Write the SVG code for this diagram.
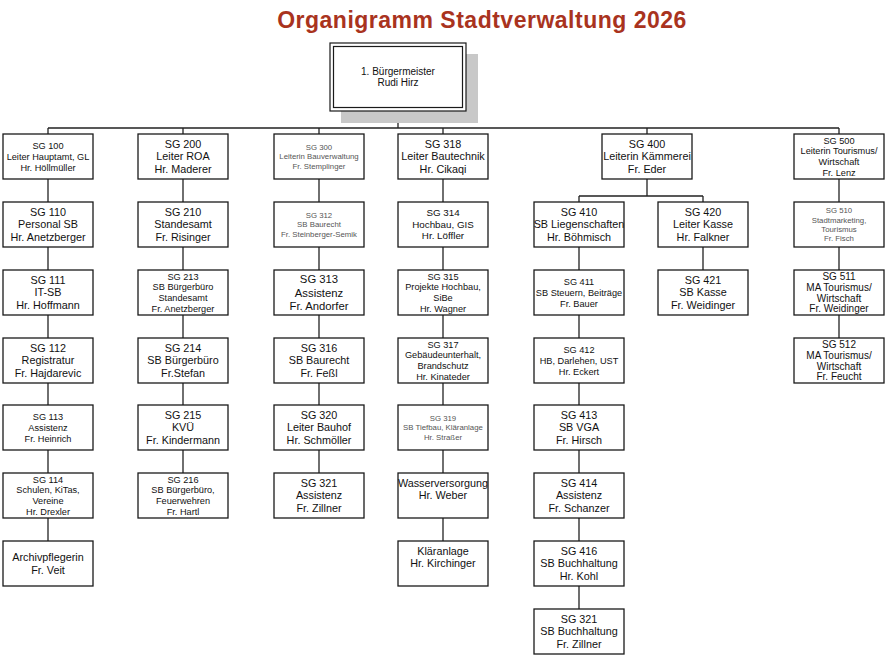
<svg xmlns="http://www.w3.org/2000/svg" width="886" height="656" viewBox="0 0 886 656">
<style>
.box{fill:#fff;stroke:#1a1a1a;stroke-width:1.3}
.t{font-family:"Liberation Sans",Arial,sans-serif;text-anchor:middle;fill:#111}
.b{font-size:10.8px}
.m{font-size:9.2px}
.s{font-size:7.8px;fill:#555}
.con{stroke:#222;stroke-width:1.3;fill:none}
.title{font-family:"Liberation Sans",Arial,sans-serif;font-weight:bold;font-size:23px;letter-spacing:0.5px;fill:#A9331E;text-anchor:middle}
</style>
<rect width="886" height="656" fill="#fff"/>
<text class="title" x="482" y="28">Organigramm Stadtverwaltung 2026</text>

<g id="connectors" class="con">
<path d="M398 111V128M48 128H839"/>
<path d="M48 128V541"/>
<path d="M183 128V473"/>
<path d="M319 128V473"/>
<path d="M443 128V541"/>
<path d="M647 128V196M579 196H703M579 196V609M703 196V270"/>
<path d="M839 128V338"/>
</g>

<g id="buergermeister">
<rect x="341" y="54" width="137" height="69" fill="#c8c8c8"/>
<rect x="330" y="43" width="136" height="68" fill="#fff" stroke="#1a1a1a" stroke-width="1.2"/>
<rect x="333.5" y="46.5" width="129" height="61" fill="none" stroke="#1a1a1a" stroke-width="1.2"/>
<text class="t" font-size="10px" x="398" y="74.6"><tspan x="398">1. Bürgermeister</tspan><tspan x="398" dy="11.7">Rudi Hirz</tspan></text>
</g>

<!-- Column 1 -->
<g id="sg100"><rect class="box" x="3" y="134" width="90" height="45"/><text class="t m" x="48" y="148.6"><tspan x="48">SG 100</tspan><tspan x="48" dy="11.2">Leiter Hauptamt, GL</tspan><tspan x="48" dy="11.2">Hr. Höllmüller</tspan></text></g>
<g id="sg110"><rect class="box" x="3" y="202" width="90" height="45"/><text class="t b" x="48" y="215.7"><tspan x="48">SG 110</tspan><tspan x="48" dy="12.7">Personal SB</tspan><tspan x="48" dy="12.7">Hr. Anetzberger</tspan></text></g>
<g id="sg111"><rect class="box" x="3" y="270" width="90" height="45"/><text class="t b" x="48" y="283.7"><tspan x="48">SG 111</tspan><tspan x="48" dy="12.7">IT-SB</tspan><tspan x="48" dy="12.7">Hr. Hoffmann</tspan></text></g>
<g id="sg112"><rect class="box" x="3" y="338" width="90" height="45"/><text class="t b" x="48" y="351.7"><tspan x="48">SG 112</tspan><tspan x="48" dy="12.7">Registratur</tspan><tspan x="48" dy="12.7">Fr. Hajdarevic</tspan></text></g>
<g id="sg113"><rect class="box" x="3" y="405" width="90" height="45"/><text class="t m" x="48" y="419.6"><tspan x="48">SG 113</tspan><tspan x="48" dy="11.2">Assistenz</tspan><tspan x="48" dy="11.2">Fr. Heinrich</tspan></text></g>
<g id="sg114"><rect class="box" x="3" y="473" width="90" height="45"/><text class="t m" x="48" y="482.6"><tspan x="48">SG 114</tspan><tspan x="48" dy="10.8">Schulen, KiTas,</tspan><tspan x="48" dy="10.8">Vereine</tspan><tspan x="48" dy="10.8">Hr. Drexler</tspan></text></g>
<g id="archiv"><rect class="box" x="3" y="541" width="90" height="45"/><text class="t b" x="48" y="561"><tspan x="48">Archivpflegerin</tspan><tspan x="48" dy="12.7">Fr. Veit</tspan></text></g>

<!-- Column 2 -->
<g id="sg200"><rect class="box" x="138" y="134" width="90" height="45"/><text class="t b" x="183" y="147.7"><tspan x="183">SG 200</tspan><tspan x="183" dy="12.7">Leiter ROA</tspan><tspan x="183" dy="12.7">Hr. Maderer</tspan></text></g>
<g id="sg210"><rect class="box" x="138" y="202" width="90" height="45"/><text class="t b" x="183" y="215.7"><tspan x="183">SG 210</tspan><tspan x="183" dy="12.7">Standesamt</tspan><tspan x="183" dy="12.7">Fr. Risinger</tspan></text></g>
<g id="sg213"><rect class="box" x="138" y="270" width="90" height="45"/><text class="t m" x="183" y="279.6"><tspan x="183">SG 213</tspan><tspan x="183" dy="10.8">SB Bürgerbüro</tspan><tspan x="183" dy="10.8">Standesamt</tspan><tspan x="183" dy="10.8">Fr. Anetzberger</tspan></text></g>
<g id="sg214"><rect class="box" x="138" y="338" width="90" height="45"/><text class="t b" x="183" y="351.7"><tspan x="183">SG 214</tspan><tspan x="183" dy="12.7">SB Bürgerbüro</tspan><tspan x="183" dy="12.7">Fr.Stefan</tspan></text></g>
<g id="sg215"><rect class="box" x="138" y="405" width="90" height="45"/><text class="t b" x="183" y="418.7"><tspan x="183">SG 215</tspan><tspan x="183" dy="12.7">KVÜ</tspan><tspan x="183" dy="12.7">Fr. Kindermann</tspan></text></g>
<g id="sg216"><rect class="box" x="138" y="473" width="90" height="45"/><text class="t m" x="183" y="482.6"><tspan x="183">SG 216</tspan><tspan x="183" dy="10.8">SB Bürgerbüro,</tspan><tspan x="183" dy="10.8">Feuerwehren</tspan><tspan x="183" dy="10.8">Fr. Hartl</tspan></text></g>

<!-- Column 3 -->
<g id="sg300"><rect class="box" x="274" y="134" width="90" height="45"/><text class="t s" x="319" y="149.6"><tspan x="319">SG 300</tspan><tspan x="319" dy="9.7">Leiterin Bauverwaltung</tspan><tspan x="319" dy="9.7">Fr. Stemplinger</tspan></text></g>
<g id="sg312"><rect class="box" x="274" y="202" width="90" height="45"/><text class="t s" x="319" y="217.6"><tspan x="319">SG 312</tspan><tspan x="319" dy="9.7">SB Baurecht</tspan><tspan x="319" dy="9.7">Fr. Steinberger-Semik</tspan></text></g>
<g id="sg313"><rect class="box" x="274" y="270" width="90" height="45"/><text class="t" font-size="11.3px" x="319" y="283.3"><tspan x="319">SG 313</tspan><tspan x="319" dy="13.2">Assistenz</tspan><tspan x="319" dy="13.2">Fr. Andorfer</tspan></text></g>
<g id="sg316"><rect class="box" x="274" y="338" width="90" height="45"/><text class="t b" x="319" y="351.7"><tspan x="319">SG 316</tspan><tspan x="319" dy="12.7">SB Baurecht</tspan><tspan x="319" dy="12.7">Fr. Feßl</tspan></text></g>
<g id="sg320"><rect class="box" x="274" y="405" width="90" height="45"/><text class="t b" x="319" y="418.7"><tspan x="319">SG 320</tspan><tspan x="319" dy="12.7">Leiter Bauhof</tspan><tspan x="319" dy="12.7">Hr. Schmöller</tspan></text></g>
<g id="sg321a"><rect class="box" x="274" y="473" width="90" height="45"/><text class="t b" x="319" y="486.7"><tspan x="319">SG 321</tspan><tspan x="319" dy="12.7">Assistenz</tspan><tspan x="319" dy="12.7">Fr. Zillner</tspan></text></g>

<!-- Column 4 -->
<g id="sg318"><rect class="box" x="398" y="134" width="90" height="45"/><text class="t b" x="443" y="147.7"><tspan x="443">SG 318</tspan><tspan x="443" dy="12.7">Leiter Bautechnik</tspan><tspan x="443" dy="12.7">Hr. Cikaqi</tspan></text></g>
<g id="sg314"><rect class="box" x="398" y="202" width="90" height="45"/><text class="t" font-size="9.8px" x="443" y="216.4"><tspan x="443">SG 314</tspan><tspan x="443" dy="11.4">Hochbau, GIS</tspan><tspan x="443" dy="11.4">Hr. Löffler</tspan></text></g>
<g id="sg315"><rect class="box" x="398" y="270" width="90" height="45"/><text class="t m" x="443" y="279.6"><tspan x="443">SG 315</tspan><tspan x="443" dy="10.8">Projekte Hochbau,</tspan><tspan x="443" dy="10.8">SiBe</tspan><tspan x="443" dy="10.8">Hr. Wagner</tspan></text></g>
<g id="sg317"><rect class="box" x="398" y="338" width="90" height="45"/><text class="t m" x="443" y="347.6"><tspan x="443">SG 317</tspan><tspan x="443" dy="10.8">Gebäudeunterhalt,</tspan><tspan x="443" dy="10.8">Brandschutz</tspan><tspan x="443" dy="10.8">Hr. Kinateder</tspan></text></g>
<g id="sg319"><rect class="box" x="398" y="405" width="90" height="45"/><text class="t s" x="443" y="420.6"><tspan x="443">SG 319</tspan><tspan x="443" dy="9.7">SB Tiefbau, Kläranlage</tspan><tspan x="443" dy="9.7">Hr. Straßer</tspan></text></g>
<g id="wasser"><rect class="box" x="398" y="473" width="90" height="45"/><text class="t b" x="443" y="486.7"><tspan x="443">Wasserversorgung</tspan><tspan x="443" dy="12.7">Hr. Weber</tspan></text></g>
<g id="klaer"><rect class="box" x="398" y="541" width="90" height="45"/><text class="t b" x="443" y="554.7"><tspan x="443">Kläranlage</tspan><tspan x="443" dy="12.7">Hr. Kirchinger</tspan></text></g>

<!-- Column SG 400 -->
<g id="sg400"><rect class="box" x="602" y="134" width="90" height="45"/><text class="t b" x="647" y="147.7"><tspan x="647">SG 400</tspan><tspan x="647" dy="12.7">Leiterin Kämmerei</tspan><tspan x="647" dy="12.7">Fr. Eder</tspan></text></g>
<g id="sg410"><rect class="box" x="534" y="202" width="90" height="45"/><text class="t b" x="579" y="215.7"><tspan x="579">SG 410</tspan><tspan x="579" dy="12.7">SB Liegenschaften</tspan><tspan x="579" dy="12.7">Hr. Böhmisch</tspan></text></g>
<g id="sg411"><rect class="box" x="534" y="270" width="90" height="45"/><text class="t m" x="579" y="284.6"><tspan x="579">SG 411</tspan><tspan x="579" dy="11.2">SB Steuern, Beiträge</tspan><tspan x="579" dy="11.2">Fr. Bauer</tspan></text></g>
<g id="sg412"><rect class="box" x="534" y="338" width="90" height="45"/><text class="t m" x="579" y="352.6"><tspan x="579">SG 412</tspan><tspan x="579" dy="11.2">HB, Darlehen, UST</tspan><tspan x="579" dy="11.2">Hr. Eckert</tspan></text></g>
<g id="sg413"><rect class="box" x="534" y="405" width="90" height="45"/><text class="t b" x="579" y="418.7"><tspan x="579">SG 413</tspan><tspan x="579" dy="12.7">SB VGA</tspan><tspan x="579" dy="12.7">Fr. Hirsch</tspan></text></g>
<g id="sg414"><rect class="box" x="534" y="473" width="90" height="45"/><text class="t b" x="579" y="486.7"><tspan x="579">SG 414</tspan><tspan x="579" dy="12.7">Assistenz</tspan><tspan x="579" dy="12.7">Fr. Schanzer</tspan></text></g>
<g id="sg416"><rect class="box" x="534" y="541" width="90" height="45"/><text class="t b" x="579" y="554.7"><tspan x="579">SG 416</tspan><tspan x="579" dy="12.7">SB Buchhaltung</tspan><tspan x="579" dy="12.7">Hr. Kohl</tspan></text></g>
<g id="sg321b"><rect class="box" x="534" y="609" width="90" height="45"/><text class="t b" x="579" y="622.7"><tspan x="579">SG 321</tspan><tspan x="579" dy="12.7">SB Buchhaltung</tspan><tspan x="579" dy="12.7">Fr. Zillner</tspan></text></g>
<g id="sg420"><rect class="box" x="658" y="202" width="90" height="45"/><text class="t b" x="703" y="215.7"><tspan x="703">SG 420</tspan><tspan x="703" dy="12.7">Leiter Kasse</tspan><tspan x="703" dy="12.7">Hr. Falkner</tspan></text></g>
<g id="sg421"><rect class="box" x="658" y="270" width="90" height="45"/><text class="t b" x="703" y="283.7"><tspan x="703">SG 421</tspan><tspan x="703" dy="12.7">SB Kasse</tspan><tspan x="703" dy="12.7">Fr. Weidinger</tspan></text></g>

<!-- Column SG 500 -->
<g id="sg500"><rect class="box" x="794" y="134" width="90" height="45"/><text class="t m" x="839" y="143.6"><tspan x="839">SG 500</tspan><tspan x="839" dy="10.8">Leiterin Tourismus/</tspan><tspan x="839" dy="10.8">Wirtschaft</tspan><tspan x="839" dy="10.8">Fr. Lenz</tspan></text></g>
<g id="sg510"><rect class="box" x="794" y="202" width="90" height="45"/><text class="t s" x="839" y="213.2"><tspan x="839">SG 510</tspan><tspan x="839" dy="9.4">Stadtmarketing,</tspan><tspan x="839" dy="9.4">Tourismus</tspan><tspan x="839" dy="9.4">Fr. Fisch</tspan></text></g>
<g id="sg511"><rect class="box" x="794" y="270" width="90" height="45"/><text class="t" font-size="10px" x="839" y="279.9"><tspan x="839">SG 511</tspan><tspan x="839" dy="10.8">MA Tourismus/</tspan><tspan x="839" dy="10.8">Wirtschaft</tspan><tspan x="839" dy="10.8">Fr. Weidinger</tspan></text></g>
<g id="sg512"><rect class="box" x="794" y="338" width="90" height="45"/><text class="t" font-size="10px" x="839" y="347.9"><tspan x="839">SG 512</tspan><tspan x="839" dy="10.8">MA Tourismus/</tspan><tspan x="839" dy="10.8">Wirtschaft</tspan><tspan x="839" dy="10.8">Fr. Feucht</tspan></text></g>
</svg>
